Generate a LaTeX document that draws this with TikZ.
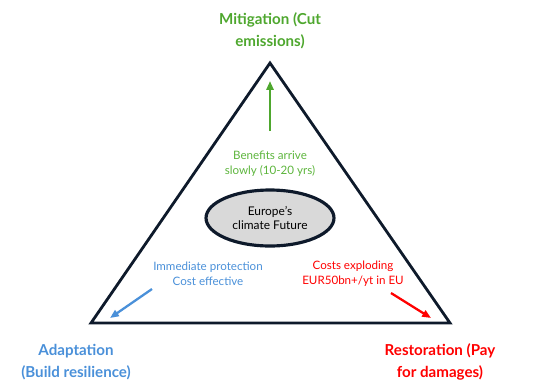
\documentclass[tikz,border=0pt]{standalone}
\usepackage{fontspec}
\setmainfont{Lato}
\usetikzlibrary{arrows.meta,shapes.geometric,positioning}
\definecolor{mitgreen}{HTML}{4EA72E}
\definecolor{benefitgreen}{HTML}{5DB53D}
\definecolor{adaptblue}{HTML}{4A90D9}
\definecolor{restred}{HTML}{FF0000}
\definecolor{edgenavy}{HTML}{0E1A2B}

\begin{document}
\begin{tikzpicture}[x=0.02cm, y=-0.02cm,
  corner/.style={font=\fontsize{8.6}{12.4}\selectfont\bfseries, align=center},
  note/.style={font=\fontsize{6.6}{8.4}\selectfont, align=center},
  arrow/.style={-{Triangle[length=5pt, width=4pt]}, line width=1.3pt}
]
\useasboundingbox (0,0) rectangle (534,383);

% Triangle
\coordinate (top) at (270,63);
\coordinate (left) at (91,323);
\coordinate (right) at (450,323);
\draw[edgenavy, line width=1.6pt, line join=miter] (top) -- (left) -- (right) -- cycle;

% Centre
\node[ellipse, draw=edgenavy, line width=1.8pt, fill=gray!30, minimum width=2.56cm, minimum height=1.12cm, inner sep=0pt,
  font=\fontsize{6.8}{8.4}\selectfont, align=center] (future) at (270,218) {Europe's\\climate Future};

% Corner labels
\node[corner, text=mitgreen] (mitigation) at (270,31) {Mitigation (Cut\\emissions)};
\node[corner, text=adaptblue] (adaptation) at (76,362) {Adaptation\\(Build resilience)};
\node[corner, text=restred] (restoration) at (440,362) {Restoration (Pay\\for damages)};

% Notes
\node[note, text=benefitgreen] (benefits) at (270,164) {Benefits arrive\\slowly (10-20 yrs)};
\node[note, text=adaptblue] (protection) at (208,274) {Immediate protection\\Cost effective};
\node[note, text=restred] (costs) at (353,274) {Costs exploding\\EUR50bn+/yt in EU};

% Arrows
\coordinate (mitstart) at (270,131);
\coordinate (mitend) at (270,81);
\coordinate (adaptstart) at (152,289);
\coordinate (adaptend) at (110,318);
\coordinate (reststart) at (391,293);
\coordinate (restend) at (431,318);
\draw[arrow, mitgreen] (mitstart) -- (mitend);
\draw[arrow, adaptblue] (adaptstart) -- (adaptend);
\draw[arrow, restred] (reststart) -- (restend);

\end{tikzpicture}
\end{document}
